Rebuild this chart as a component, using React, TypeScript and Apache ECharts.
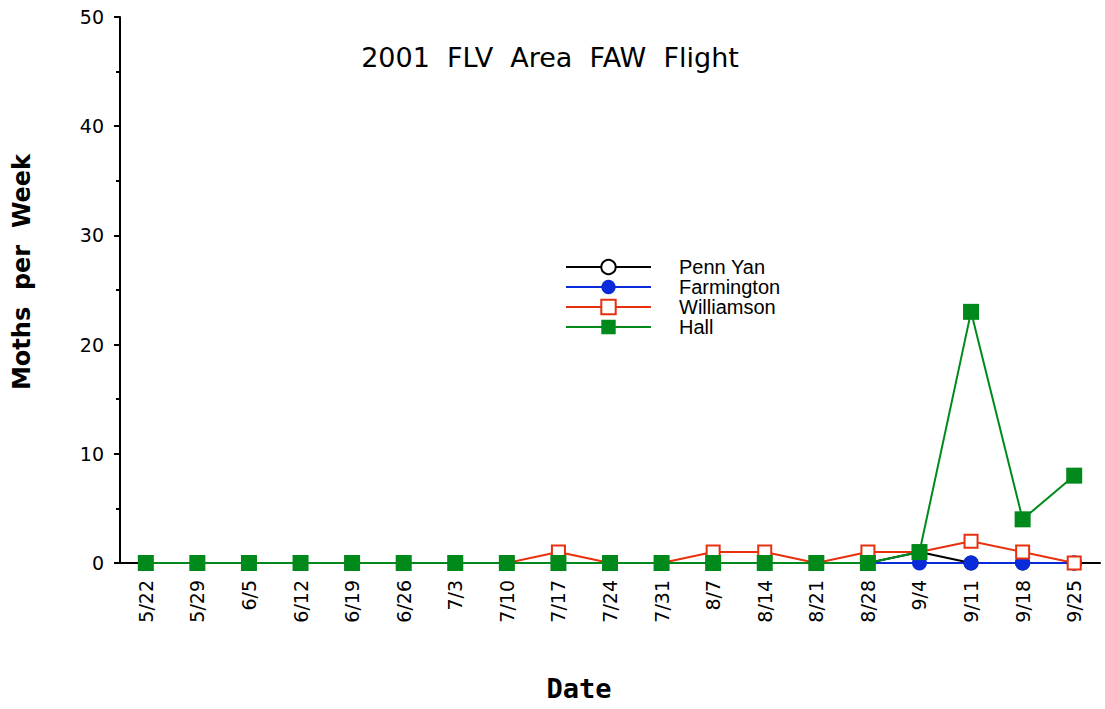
import React, { useEffect, useRef } from "react";
import * as echarts from "echarts";

const dates = ["5/22","5/29","6/5","6/12","6/19","6/26","7/3","7/10","7/17","7/24","7/31","8/7","8/14","8/21","8/28","9/4","9/11","9/18","9/25"];
const pennYan = [0,0,0,0,0,0,0,0,0,0,0,0,0,0,0,1,0,0,0];
const farmington = [0,0,0,0,0,0,0,0,0,0,0,0,0,0,0,0,0,0,0];
const williamson = [0,0,0,0,0,0,0,0,1,0,0,1,1,0,1,1,2,1,0];
const hall = [0,0,0,0,0,0,0,0,0,0,0,0,0,0,0,1,23,4,8];
const yTicks = { min: 0, max: 50, interval: 10 };

const BLACK = "#000000";
const BLUE = "#0a2bd9";
const RED = "#e8300f";
const GREEN = "#008a1b";

export default function App() {
  const ref = useRef<HTMLDivElement>(null);
  useEffect(() => {
    if (!ref.current) return;
    const chart = echarts.init(ref.current, null, { renderer: "svg" });
    const tickFont = "DejaVu Sans";
    chart.setOption({
      animation: false,
      backgroundColor: "#ffffff",
      grid: { left: 120, right: 5, top: 17, bottom: 146, containLabel: false },
      graphic: [
        {
          type: "text", x: 550, y: 57,
          style: { text: "2001  FLV  Area  FAW  Flight", fill: "#000", font: "27px 'DejaVu Sans'", align: "center", verticalAlign: "middle" },
        },
        {
          type: "text", x: 22, y: 272, rotation: Math.PI / 2,
          style: { text: "Moths  per  Week", fill: "#000", font: "bold 24px 'DejaVu Sans'", align: "center", verticalAlign: "middle" },
        },
        {
          type: "text", x: 579, y: 688,
          style: { text: "Date", fill: "#000", font: "bold 27px 'DejaVu Sans Mono'", align: "center", verticalAlign: "middle" },
        },
      ],
      legend: {
        orient: "vertical",
        left: 565,
        top: 257,
        padding: 0,
        itemWidth: 85,
        itemHeight: 18,
        itemGap: 0,
        textStyle: { fontFamily: "Liberation Sans", fontSize: 20, color: "#000", padding: [0, 0, 0, 23], lineHeight: 18 },
        data: ["Penn Yan", "Farmington", "Williamson", "Hall"],
      },
      xAxis: [
        {
          type: "category",
          data: dates,
          boundaryGap: true,
          position: "bottom",
          axisLine: { lineStyle: { color: "#000", width: 2 } },
          axisTick: { alignWithLabel: true, length: 5, lineStyle: { color: "#000", width: 2 } },
          axisLabel: { rotate: 90, margin: 17, fontFamily: tickFont, fontSize: 19, color: "#000" },
          splitLine: { show: false },
        },
        {
          type: "category",
          data: dates,
          boundaryGap: true,
          position: "bottom",
          axisLine: { show: false },
          axisTick: { alignWithLabel: false, length: 5, lineStyle: { color: "#000", width: 2 } },
          axisLabel: { show: false },
          splitLine: { show: false },
        },
      ],
      yAxis: {
        type: "value",
        min: yTicks.min,
        max: yTicks.max,
        interval: yTicks.interval,
        axisLine: { show: true, lineStyle: { color: "#000", width: 2 } },
        axisTick: { show: true, length: 6, lineStyle: { color: "#000", width: 2 } },
        minorTick: { show: true, splitNumber: 2, length: 4, lineStyle: { color: "#000", width: 2 } },
        axisLabel: { margin: 16, fontFamily: tickFont, fontSize: 19, color: "#000" },
        splitLine: { show: false },
      },
      series: [
        {
          name: "Penn Yan", type: "line", data: pennYan,
          symbol: "circle", symbolSize: 13,
          lineStyle: { color: BLACK, width: 2 },
          itemStyle: { color: "#fff", borderColor: BLACK, borderWidth: 2 },
        },
        {
          name: "Farmington", type: "line", data: farmington,
          symbol: "circle", symbolSize: 15,
          lineStyle: { color: BLUE, width: 2 },
          itemStyle: { color: BLUE, borderColor: BLUE, borderWidth: 0 },
        },
        {
          name: "Williamson", type: "line", data: williamson,
          symbol: "rect", symbolSize: 13,
          lineStyle: { color: RED, width: 2 },
          itemStyle: { color: "#fff", borderColor: RED, borderWidth: 2 },
        },
        {
          name: "Hall", type: "line", data: hall,
          symbol: "rect", symbolSize: 16,
          lineStyle: { color: GREEN, width: 2 },
          itemStyle: { color: GREEN, borderColor: GREEN, borderWidth: 0 },
        },
      ],
    });
    return () => chart.dispose();
  }, []);
  return <div ref={ref} style={{ width: 1105, height: 709, position: "absolute", left: 0, top: 0 }} />;
}
